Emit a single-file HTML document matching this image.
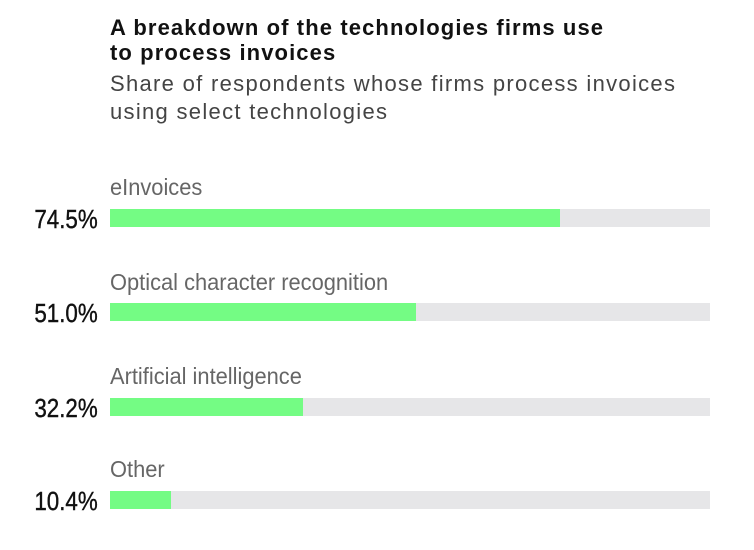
<!DOCTYPE html>
<html><head><meta charset="utf-8"><style>
body{margin:0;width:754px;height:550px;background:#fff;position:relative;overflow:hidden;font-family:"Liberation Sans",sans-serif}
.t{position:absolute;left:110px;top:15px;font-weight:bold;font-size:22px;line-height:25px;color:#111;letter-spacing:1.1px}
.s{position:absolute;left:110px;top:70px;font-size:22px;line-height:28px;color:#444;letter-spacing:1.3px}
.l{position:absolute;left:110px;font-size:23px;color:#666;line-height:26px;transform:scaleX(0.95);transform-origin:left}
.v{position:absolute;right:656px;font-size:26px;color:#111;line-height:26px;transform:scaleX(0.86);transform-origin:right;-webkit-text-stroke:0.4px #111}
.b{position:absolute;left:110px;width:600px;height:18px;background:#e6e6e8}
.b i{display:block;height:100%;background:#74fc84}
</style></head><body>
<div class="t">A breakdown of the technologies firms use<br>to process invoices</div>
<div class="s">Share of respondents whose firms process invoices<br>using select technologies</div>

<div class="l" style="top:174px">eInvoices</div>
<div class="v" style="top:206px">74.5%</div>
<div class="b" style="top:209px"><i style="width:450px"></i></div>

<div class="l" style="top:269px">Optical character recognition</div>
<div class="v" style="top:300px">51.0%</div>
<div class="b" style="top:303px"><i style="width:306px"></i></div>

<div class="l" style="top:363px">Artificial intelligence</div>
<div class="v" style="top:395px">32.2%</div>
<div class="b" style="top:398px"><i style="width:193px"></i></div>

<div class="l" style="top:456px">Other</div>
<div class="v" style="top:488px">10.4%</div>
<div class="b" style="top:491px"><i style="width:61px"></i></div>
</body></html>
